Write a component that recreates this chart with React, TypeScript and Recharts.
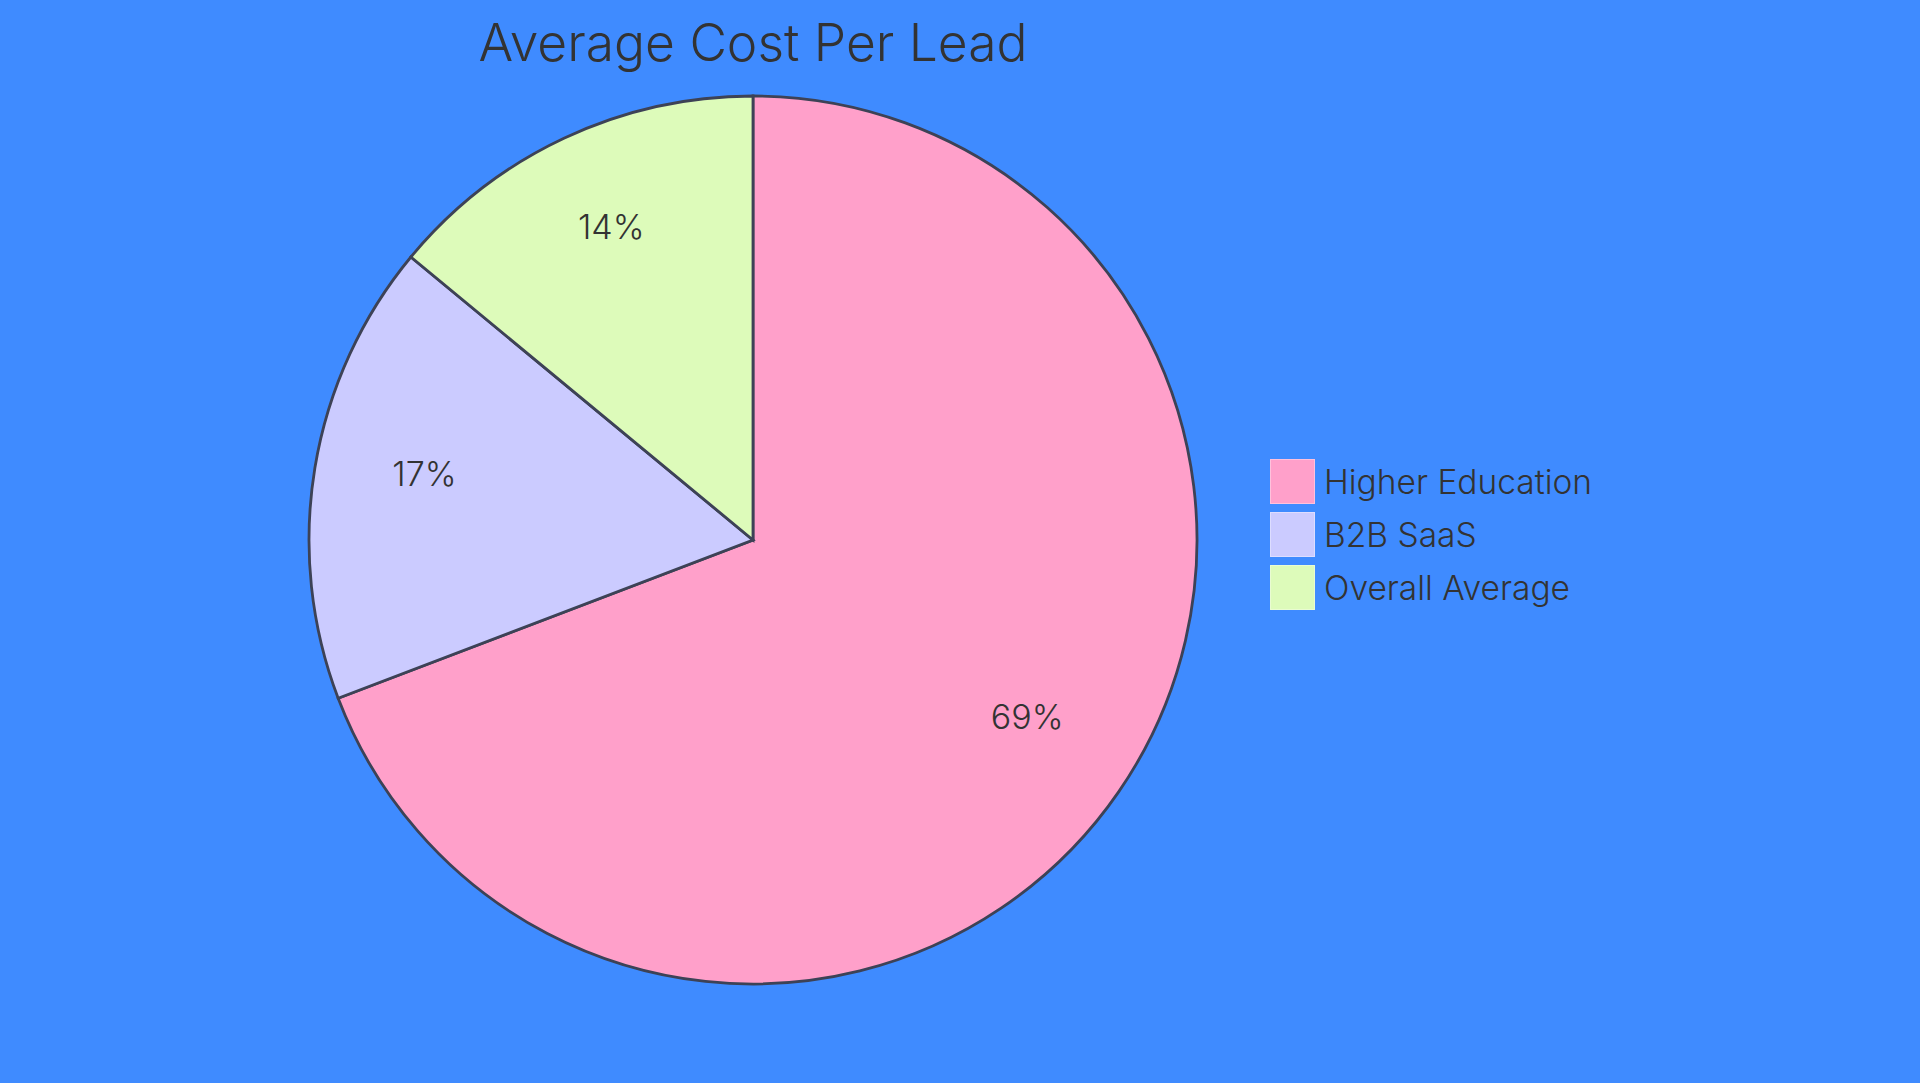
import React from 'react';
import { PieChart, Pie, Cell, Legend } from 'recharts';

// share of average cost per lead
const categories = ['Higher Education', 'B2B SaaS', 'Overall Average'];
const values = [69.2, 16.8, 14];
const colors = ['#FFA0CA', '#CBCBFF', '#DDFBBA'];

const data = categories.map((name, i) => ({ name, value: values[i] }));

const FONT = 'Inter, "Noto Sans", sans-serif';
const RADIAN = Math.PI / 180;

const renderLabel = (props: any) => {
  const { cx, cy, midAngle, outerRadius, percent } = props;
  const r = outerRadius * 0.75;
  const x = cx + r * Math.cos(-midAngle * RADIAN);
  const y = cy + r * Math.sin(-midAngle * RADIAN);
  return (
    <text x={x} y={y} fill="#333" textAnchor="middle"
      style={{ fontFamily: FONT, fontSize: 34, fontWeight: 300 }}>
      {`${Math.round(percent * 100)}%`}
    </text>
  );
};

const renderLegend = () => (
  <div style={{ fontFamily: FONT }}>
    {categories.map((name, i) => (
      <div key={name} style={{ display: 'flex', alignItems: 'center', height: 53 }}>
        <div style={{
          width: 43, height: 43, background: colors[i],
          border: '1px solid rgba(255,255,255,0.35)', marginRight: 9,
        }} />
        <span style={{ fontSize: 33.5, color: '#333', fontWeight: 300 }}>{name}</span>
      </div>
    ))}
  </div>
);

const App = () => {
  return (
    <div style={{ position: 'fixed', left: 0, top: 0, width: 1920, height: 1083, background: '#3F8BFF' }}>
      <div style={{
        position: 'absolute', left: 0, width: 1506, top: 11, textAlign: 'center',
        fontFamily: FONT, fontSize: 51.5, color: '#333', fontWeight: 300,
      }}>
        Average Cost Per Lead
      </div>
      <PieChart width={1920} height={1083}>
        <Pie
          data={data}
          dataKey="value"
          nameKey="name"
          cx={748}
          cy={535}
          outerRadius={444}
          startAngle={90}
          endAngle={-270}
          stroke="#3D4256"
          strokeWidth={2.8}
          label={renderLabel}
          labelLine={false}
          isAnimationActive={false}
        >
          {data.map((d, i) => (
            <Cell key={d.name} fill={colors[i]} />
          ))}
        </Pie>
        <Legend
          layout="vertical"
          content={renderLegend}
          wrapperStyle={{ left: 1270, top: 455, width: 400 }}
        />
      </PieChart>
    </div>
  );
};

export default App;
